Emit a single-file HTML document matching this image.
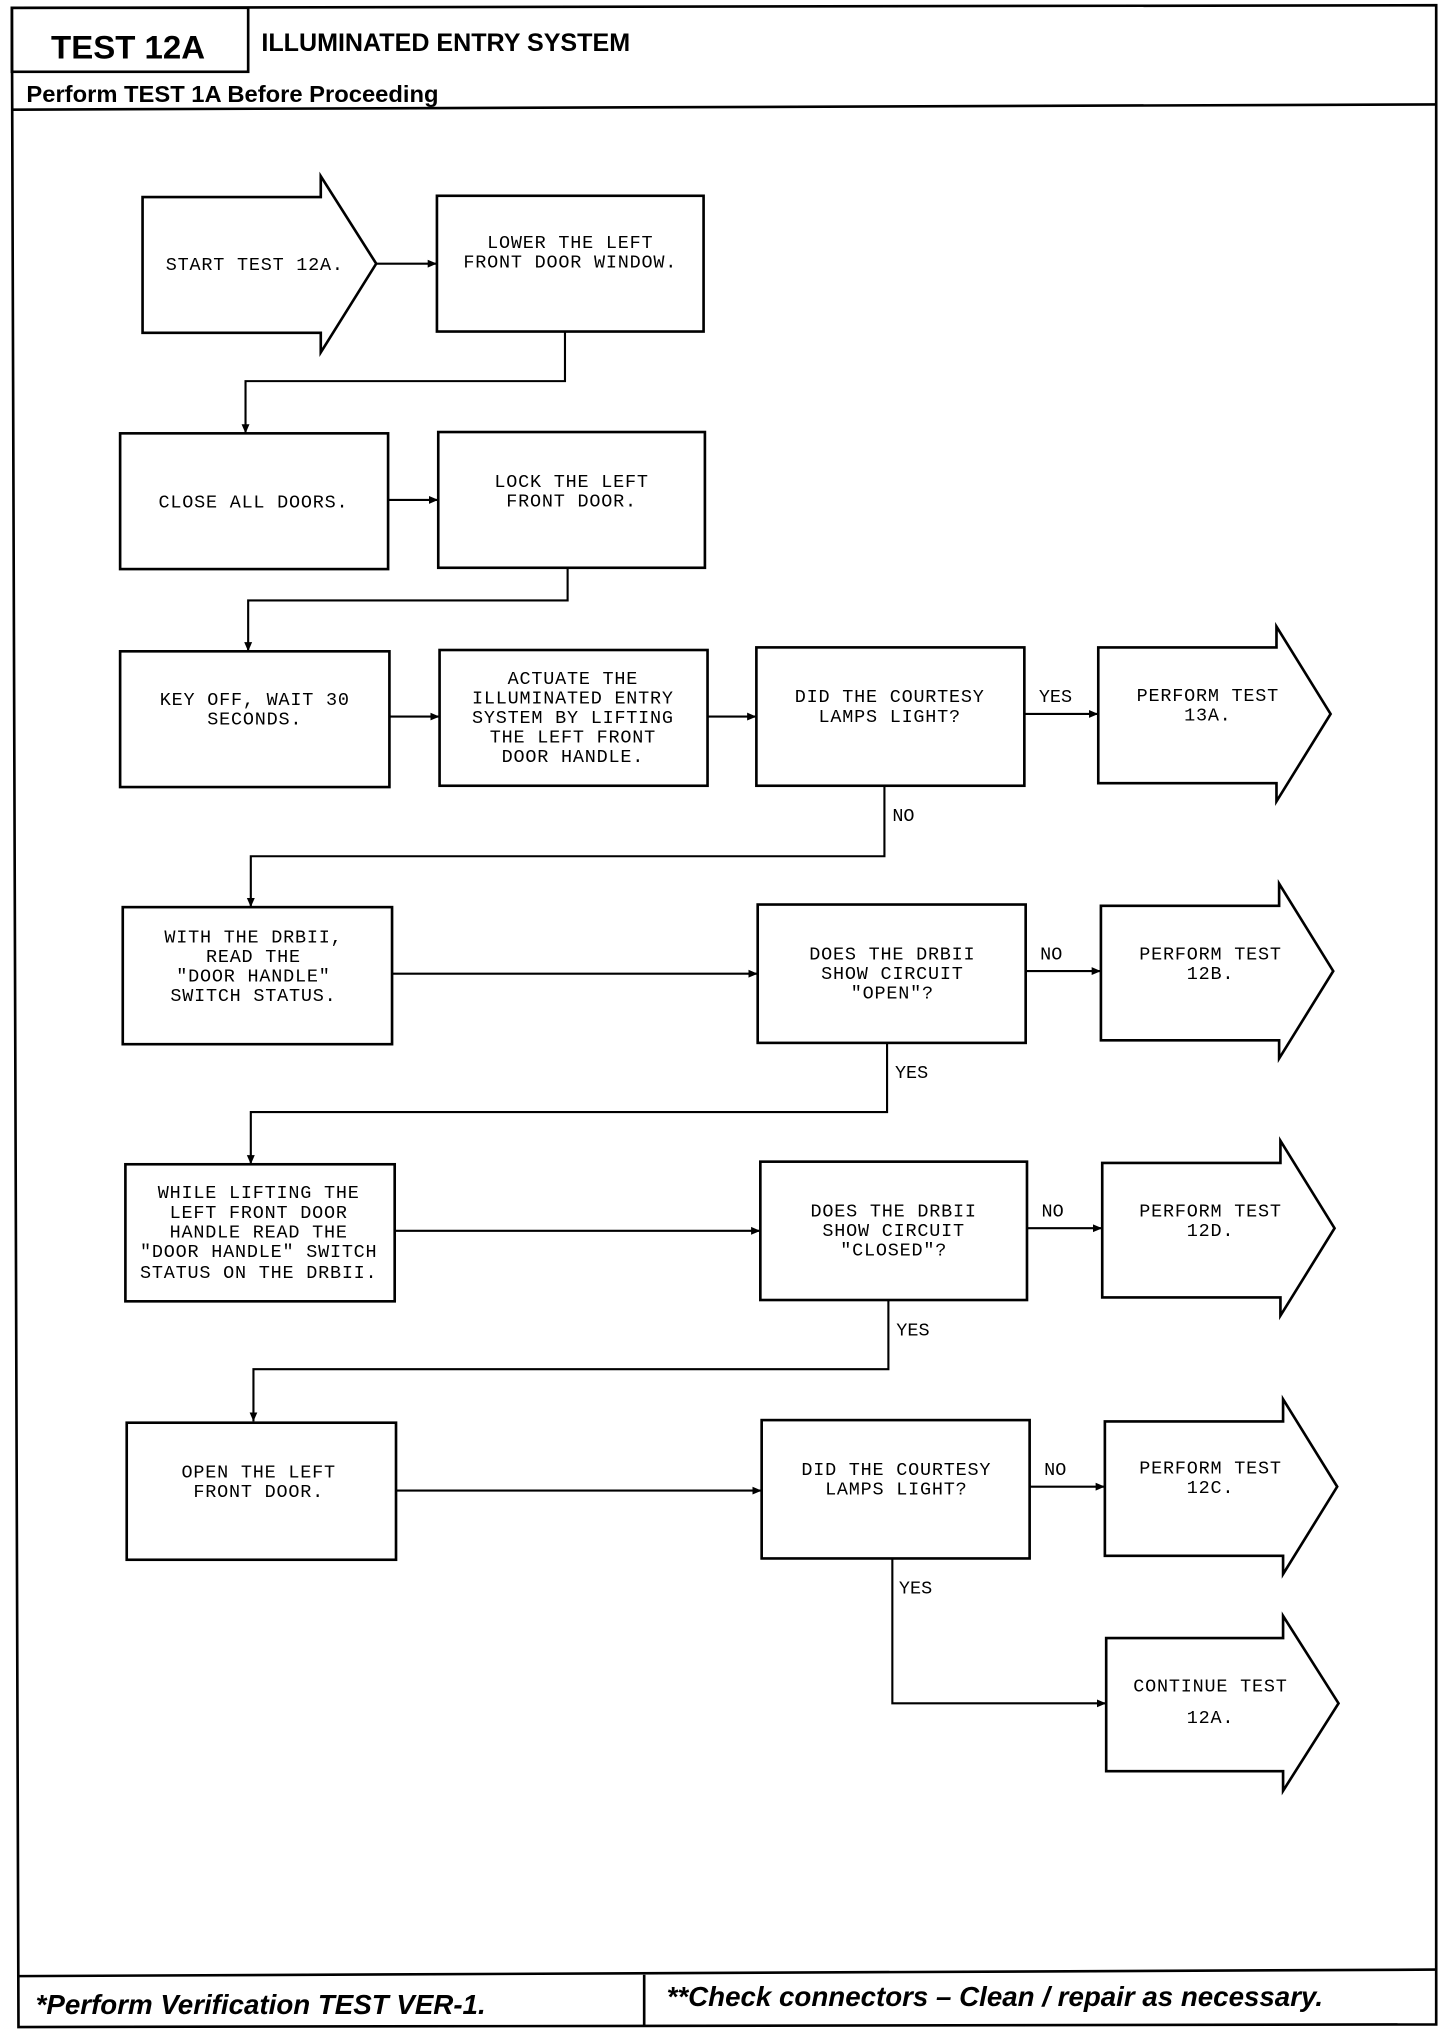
<!DOCTYPE html>
<html><head><meta charset="utf-8"><style>
html,body{margin:0;padding:0;background:#fff;}
svg{display:block;}
.t{font-family:"Liberation Mono",monospace;font-size:14px;letter-spacing:0.6px;text-anchor:middle;fill:#000;}
.l{font-family:"Liberation Mono",monospace;font-size:14px;fill:#000;}
.b{fill:none;stroke:#000;stroke-width:2;}
.c{fill:none;stroke:#000;stroke-width:1.6;}
</style></head><body>
<svg width="1456" height="2044" viewBox="0 0 1103 1566" preserveAspectRatio="none" xmlns="http://www.w3.org/2000/svg">
<defs><marker id="a" markerWidth="8" markerHeight="8" refX="7" refY="4" orient="auto" markerUnits="userSpaceOnUse"><path d="M0,1 L7,4 L0,7 Z" fill="#000"/></marker></defs>
<!-- frame -->
<path d="M9,6 L1088,4 L1088,1551 L14,1553 Z" class="b"/>
<rect x="9" y="6" width="179" height="49" class="b"/>
<line x1="9" y1="84" x2="1088" y2="80" class="b"/>
<line x1="14" y1="1514" x2="1088" y2="1509" class="b"/>
<line x1="488" y1="1513" x2="488" y2="1552" class="b"/>
<text x="97" y="45" style="font-family:'Liberation Sans',sans-serif;font-weight:bold;font-size:25px;text-anchor:middle">TEST 12A</text>
<text x="198" y="39" style="font-family:'Liberation Sans',sans-serif;font-weight:bold;font-size:19px">ILLUMINATED ENTRY SYSTEM</text>
<text x="20" y="78" style="font-family:'Liberation Sans',sans-serif;font-weight:bold;font-size:18px">Perform TEST 1A Before Proceeding</text>
<text x="27" y="1543" style="font-family:'Liberation Sans',sans-serif;font-weight:bold;font-style:italic;font-size:21px">*Perform Verification TEST VER-1.</text>
<text x="505" y="1537" style="font-family:'Liberation Sans',sans-serif;font-weight:bold;font-style:italic;font-size:21px">**Check connectors – Clean / repair as necessary.</text>

<!-- row 1 -->
<path d="M108,151 L243,151 L243,135 L285,202 L243,270 L243,255 L108,255 Z" class="b"/>
<text class="t" x="193" y="207">START TEST 12A.</text>
<rect x="331" y="150" width="202" height="104" class="b"/>
<text class="t" x="432" y="190">LOWER THE LEFT</text>
<text class="t" x="432" y="205">FRONT DOOR WINDOW.</text>
<line x1="285" y1="202" x2="331" y2="202" class="c" marker-end="url(#a)"/>
<polyline points="428,254 428,292 186,292 186,332" class="c" marker-end="url(#a)"/>

<!-- row 2 -->
<rect x="91" y="332" width="203" height="104" class="b"/>
<text class="t" x="192" y="389">CLOSE ALL DOORS.</text>
<line x1="294" y1="383" x2="332" y2="383" class="c" marker-end="url(#a)"/>
<rect x="332" y="331" width="202" height="104" class="b"/>
<text class="t" x="433" y="373">LOCK THE LEFT</text>
<text class="t" x="433" y="388">FRONT DOOR.</text>
<polyline points="430,435 430,460 188,460 188,499" class="c" marker-end="url(#a)"/>

<!-- row 3 -->
<rect x="91" y="499" width="204" height="104" class="b"/>
<text class="t" x="193" y="540">KEY OFF, WAIT 30</text>
<text class="t" x="193" y="555">SECONDS.</text>
<line x1="295" y1="549" x2="333" y2="549" class="c" marker-end="url(#a)"/>
<rect x="333" y="498" width="203" height="104" class="b"/>
<text class="t" x="434" y="524">ACTUATE THE</text>
<text class="t" x="434" y="539">ILLUMINATED ENTRY</text>
<text class="t" x="434" y="554">SYSTEM BY LIFTING</text>
<text class="t" x="434" y="569">THE LEFT FRONT</text>
<text class="t" x="434" y="584">DOOR HANDLE.</text>
<line x1="536" y1="549" x2="573" y2="549" class="c" marker-end="url(#a)"/>
<rect x="573" y="496" width="203" height="106" class="b"/>
<text class="t" x="674" y="538">DID THE COURTESY</text>
<text class="t" x="674" y="553">LAMPS LIGHT?</text>
<line x1="776" y1="547" x2="832" y2="547" class="c" marker-end="url(#a)"/>
<text class="l" x="787" y="538">YES</text>
<path d="M832,496 L967,496 L967,480 L1008,547 L967,614 L967,600 L832,600 Z" class="b"/>
<text class="t" x="915" y="537">PERFORM TEST</text>
<text class="t" x="915" y="552">13A.</text>
<polyline points="670,602 670,656 190,656 190,695" class="c" marker-end="url(#a)"/>
<text class="l" x="676" y="629">NO</text>

<!-- row 4 -->
<rect x="93" y="695" width="204" height="105" class="b"/>
<text class="t" x="192" y="722">WITH THE DRBII,</text>
<text class="t" x="192" y="737">READ THE</text>
<text class="t" x="192" y="752">"DOOR HANDLE"</text>
<text class="t" x="192" y="767">SWITCH STATUS.</text>
<line x1="297" y1="746" x2="574" y2="746" class="c" marker-end="url(#a)"/>
<rect x="574" y="693" width="203" height="106" class="b"/>
<text class="t" x="676" y="735">DOES THE DRBII</text>
<text class="t" x="676" y="750">SHOW CIRCUIT</text>
<text class="t" x="676" y="765">"OPEN"?</text>
<line x1="777" y1="744" x2="834" y2="744" class="c" marker-end="url(#a)"/>
<text class="l" x="788" y="735">NO</text>
<path d="M834,694 L969,694 L969,677 L1010,744 L969,811 L969,797 L834,797 Z" class="b"/>
<text class="t" x="917" y="735">PERFORM TEST</text>
<text class="t" x="917" y="750">12B.</text>
<polyline points="672,799 672,852 190,852 190,892" class="c" marker-end="url(#a)"/>
<text class="l" x="678" y="826">YES</text>

<!-- row 5 -->
<rect x="95" y="892" width="204" height="105" class="b"/>
<text class="t" x="196" y="918">WHILE LIFTING THE</text>
<text class="t" x="196" y="933">LEFT FRONT DOOR</text>
<text class="t" x="196" y="948">HANDLE READ THE</text>
<text class="t" x="196" y="963">"DOOR HANDLE" SWITCH</text>
<text class="t" x="196" y="979">STATUS ON THE DRBII.</text>
<line x1="299" y1="943" x2="576" y2="943" class="c" marker-end="url(#a)"/>
<rect x="576" y="890" width="202" height="106" class="b"/>
<text class="t" x="677" y="932">DOES THE DRBII</text>
<text class="t" x="677" y="947">SHOW CIRCUIT</text>
<text class="t" x="677" y="962">"CLOSED"?</text>
<line x1="778" y1="941" x2="835" y2="941" class="c" marker-end="url(#a)"/>
<text class="l" x="789" y="932">NO</text>
<path d="M835,891 L970,891 L970,874 L1011,941 L970,1008 L970,994 L835,994 Z" class="b"/>
<text class="t" x="917" y="932">PERFORM TEST</text>
<text class="t" x="917" y="947">12D.</text>
<polyline points="673,996 673,1049 192,1049 192,1089" class="c" marker-end="url(#a)"/>
<text class="l" x="679" y="1023">YES</text>

<!-- row 6 -->
<rect x="96" y="1090" width="204" height="105" class="b"/>
<text class="t" x="196" y="1132">OPEN THE LEFT</text>
<text class="t" x="196" y="1147">FRONT DOOR.</text>
<line x1="300" y1="1142" x2="577" y2="1142" class="c" marker-end="url(#a)"/>
<rect x="577" y="1088" width="203" height="106" class="b"/>
<text class="t" x="679" y="1130">DID THE COURTESY</text>
<text class="t" x="679" y="1145">LAMPS LIGHT?</text>
<line x1="780" y1="1139" x2="837" y2="1139" class="c" marker-end="url(#a)"/>
<text class="l" x="791" y="1130">NO</text>
<path d="M837,1089 L972,1089 L972,1072 L1013,1139 L972,1206 L972,1192 L837,1192 Z" class="b"/>
<text class="t" x="917" y="1129">PERFORM TEST</text>
<text class="t" x="917" y="1144">12C.</text>
<polyline points="676,1194 676,1305 838,1305" class="c" marker-end="url(#a)"/>
<text class="l" x="681" y="1221">YES</text>
<path d="M838,1255 L972,1255 L972,1238 L1014,1305 L972,1372 L972,1357 L838,1357 Z" class="b"/>
<text class="t" x="917" y="1296">CONTINUE TEST</text>
<text class="t" x="917" y="1320">12A.</text>
</svg>
</body></html>
